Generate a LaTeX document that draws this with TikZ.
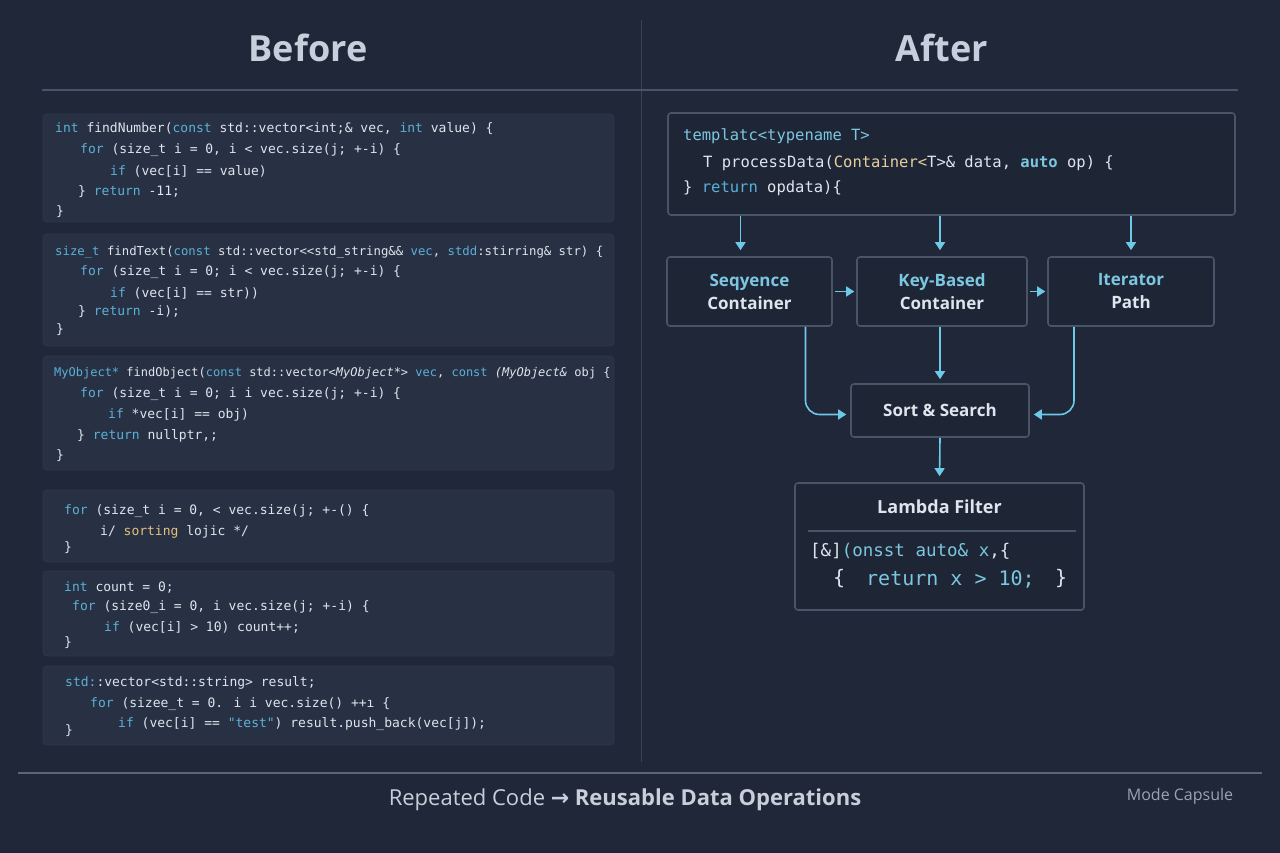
\documentclass[tikz,border=0pt]{standalone}
\usepackage{fontspec}
\setmainfont{Open Sans}
\newfontfamily\codefont{DejaVu Sans Mono}
\newfontfamily\arrowfont{DejaVu Sans}
\usetikzlibrary{arrows.meta,calc}
\definecolor{bgc}{HTML}{1F2738}
\definecolor{boxc}{HTML}{283143}
\definecolor{boxedge}{HTML}{2F384A}
\definecolor{rbox}{HTML}{1E2636}
\definecolor{rboxedge}{HTML}{4A5467}
\definecolor{codew}{HTML}{DFE5EE}
\definecolor{kwc}{HTML}{5BB0D8}
\definecolor{cyt}{HTML}{7CC6E0}
\definecolor{arrc}{HTML}{6CC9E8}
\definecolor{tanc}{HTML}{E6CF9C}
\definecolor{yelc}{HTML}{E2C07E}
\definecolor{titlec}{HTML}{C8CFDC}
\definecolor{linec}{HTML}{4B5466}
\definecolor{divc}{HTML}{3A4354}
\definecolor{footc}{HTML}{C8CFDA}
\definecolor{modec}{HTML}{9AA3B3}
\newcommand\kw[1]{\textcolor{kwc}{#1}}
\newcommand\cy[1]{\textcolor{cyt}{#1}}
\tikzset{
  codebox/.style={fill=boxc, draw=boxedge, line width=0.8pt, rounded corners=4pt, inner sep=0pt},
  rnode/.style={fill=rbox, draw=rboxedge, line width=1.6pt, rounded corners=3pt, inner sep=0pt},
  codeline/.style={anchor=west, inner sep=0pt, text=codew, font=\codefont\fontsize{13}{15}\selectfont},
  tline/.style={anchor=west, inner sep=0pt, text=codew, font=\codefont\fontsize{15.5}{18}\selectfont},
  label/.style={align=center, text=codew, font=\bfseries\fontsize{17}{23}\selectfont},
  arr/.style={draw=arrc, line width=1.6pt, -{Triangle[width=10pt,length=8pt]}},
  titletext/.style={text=titlec, font=\bfseries\fontsize{36}{40}\selectfont},
}
\begin{document}
\begin{tikzpicture}[x=1pt,y=-1pt]
\useasboundingbox (0,0) rectangle (1280,853);
\fill[bgc] (0,0) rectangle (1280,853);

% titles and rules
\node[titletext] (before) at (308,48) {Before};
\node[titletext] (after) at (942,48) {After};
\coordinate (divtop) at (641,20);
\coordinate (divbot) at (641,762);
\draw[divc, line width=1pt] (divtop) -- (divbot);
\coordinate (hl1) at (42,90);
\coordinate (hr1) at (1238,90);
\draw[linec, line width=1.6pt] (hl1) -- (hr1);
\coordinate (hl2) at (18,773);
\coordinate (hr2) at (1262,773);
\draw[linec!90!white, line width=2pt] (hl2) -- (hr2);

% ---------- left code boxes ----------
\node[codebox, minimum width=571, minimum height=108] (b1) at (328.5,168) {};
\node[codebox, minimum width=571, minimum height=112] (b2) at (328.5,290) {};
\node[codebox, minimum width=571, minimum height=114] (b3) at (328.5,413) {};
\node[codebox, minimum width=571, minimum height=72] (b4) at (328.5,526) {};
\node[codebox, minimum width=571, minimum height=85] (b5) at (328.5,613.5) {};
\node[codebox, minimum width=571, minimum height=79] (b6) at (328.5,705.5) {};

% box 1
\node[codeline] (b1a) at (55,129) {\kw{int} findNumber(\kw{const} std::vector<int;\& vec, \kw{int} value) \{};
\node[codeline] (b1b) at (80,150) {\kw{for} (size\_t i = 0, i < vec.size(j; +-i) \{};
\node[codeline] (b1c) at (110,171) {\kw{if} (vec[i] == value)};
\node[codeline] (b1d) at (78,192) {\} \kw{return} -11;};
\node[codeline] (b1e) at (56,212) {\}};

% box 2
\node[codeline, font=\codefont\fontsize{12.3}{15}\selectfont] (b2a) at (55,252) {\kw{size\_t} findText(\kw{const} std::vector<<std\_string\&\& \kw{vec}, \kw{stdd}:stirring\& str) \{};
\node[codeline] (b2b) at (80,272) {\kw{for} (size\_t i = 0; i < vec.size(j; +-i) \{};
\node[codeline] (b2c) at (110,293) {\kw{if} (vec[i] == str))};
\node[codeline] (b2d) at (78,312) {\} \kw{return} -i);};
\node[codeline] (b2e) at (56,330) {\}};

% box 3
\node[codeline, font=\codefont\fontsize{12}{15}\selectfont] (b3a) at (54,373) {\kw{MyObject*} findObject(\kw{const} std::vector<\textit{MyObject*}> \kw{vec}, \kw{const} \textit{(MyObject\&} obj \{};
\node[codeline] (b3b) at (80,394) {\kw{for} (size\_t i = 0; i i vec.size(j; +-i) \{};
\node[codeline] (b3c) at (108,415) {\kw{if} *vec[i] == obj)};
\node[codeline] (b3d) at (77,436) {\} \kw{return} nullptr,;};
\node[codeline] (b3e) at (56,456) {\}};

% box 4
\node[codeline] (b4a) at (64,511) {\kw{for} (size\_t i = 0, < vec.size(j; +-() \{};
\node[codeline] (b4b) at (100,532) {i/ \textcolor{yelc}{sorting} lojic */};
\node[codeline] (b4c) at (64,548) {\}};

% box 5
\node[codeline] (b5a) at (64,587) {\kw{int} count = 0;};
\node[codeline] (b5b) at (72,607) {\kw{for} (size0\_i = 0, i vec.size(j; +-i) \{};
\node[codeline] (b5c) at (104,627) {\kw{if} (vec[i] > 10) count++;};
\node[codeline] (b5d) at (64,643) {\}};

% box 6
\node[codeline] (b6a) at (65,683) {\kw{std:}:vector<std::string> result;};
\node[codeline] (b6b) at (90,704) {\kw{for} (sizee\_t = 0. i i vec.size() ++ı \{};
\node[codeline] (b6c) at (118,724) {\kw{if} (vec[i] == \kw{"test"}) result.push\_back(vec[j]);};
\node[codeline] (b6d) at (65,731) {\}};

% ---------- right side ----------
\node[rnode, minimum width=567, minimum height=102] (tmpl) at (951.5,164) {};
\node[tline] (t1) at (683,136) {\cy{templatc<typename T>}};
\node[tline] (t2) at (703,163) {T processData(\textcolor{tanc}{Container<}T>\& data, \textbf{\textcolor{cyt}{auto}} op) \{};
\node[tline] (t3) at (683,188) {\} \kw{return} opdata)\{};

\node[rnode, minimum width=165, minimum height=69, label] (seq) at (749.5,291.5) {\cy{Seqyence}\\Container};
\node[rnode, minimum width=170, minimum height=69, label] (key) at (942,291.5) {\cy{Key-Based}\\Container};
\node[rnode, minimum width=166, minimum height=69, label] (iter) at (1131,291.5) {\cy{Iterator}\\Path};
\node[rnode, minimum width=178, minimum height=53, label] (sort) at (940,410.5) {Sort \& Search};
\node[rnode, minimum width=289, minimum height=127] (lam) at (939.5,546.5) {};
\node[label, font=\bfseries\fontsize{18}{22}\selectfont] (lamt) at (939.5,507) {Lambda Filter};
\coordinate (lrl) at (808,531);
\coordinate (lrr) at (1076,531);
\draw[rboxedge, line width=1.2pt] (lrl) -- (lrr);
\node[codeline, font=\codefont\fontsize{17.5}{20}\selectfont] (lc1) at (810,551) {[\&]\cy{(onsst auto\& x},\{};
\node[codeline, font=\codefont\fontsize{20}{24}\selectfont] (lc2a) at (833,579) {\{};
\node[codeline, font=\codefont\fontsize{20}{24}\selectfont] (lc2b) at (866,579) {\cy{return x > 10;}};
\node[codeline, font=\codefont\fontsize{20}{24}\selectfont] (lc2c) at (1055,579) {\}};

% connectors
\draw[arr, shorten >=6pt] ([xshift=-9]seq.north |- tmpl.south) -- ([xshift=-9]seq.north);
\draw[arr, shorten >=6pt] ([xshift=-2]key.north |- tmpl.south) -- ([xshift=-2]key.north);
\draw[arr, shorten >=6pt] (iter.north |- tmpl.south) -- (iter.north);
\draw[arr, shorten <=2pt, shorten >=2pt] (seq.east) -- (key.west);
\draw[arr, shorten <=2pt, shorten >=2pt] (key.east) -- (iter.west);
\draw[arr, shorten >=4pt] ([xshift=-2]key.south) -- (sort.north);
\draw[arr, rounded corners=14pt, shorten >=4pt] ([xshift=56]seq.south) |- ([yshift=-4]sort.west);
\draw[arr, rounded corners=14pt, shorten >=4pt] ([xshift=-57]iter.south) |- ([yshift=-4]sort.east);
\draw[arr, shorten >=6pt] (sort.south) -- (lam.north);

% footer
\node[text=footc, font=\fontsize{22}{26}\selectfont] (foot) at (625,800) {Repeated Code {\arrowfont\bfseries →} \textbf{Reusable Data Operations}};
\node[text=modec, font=\fontsize{16}{20}\selectfont] (mode) at (1180,796) {Mode Capsule};
\end{tikzpicture}
\end{document}
